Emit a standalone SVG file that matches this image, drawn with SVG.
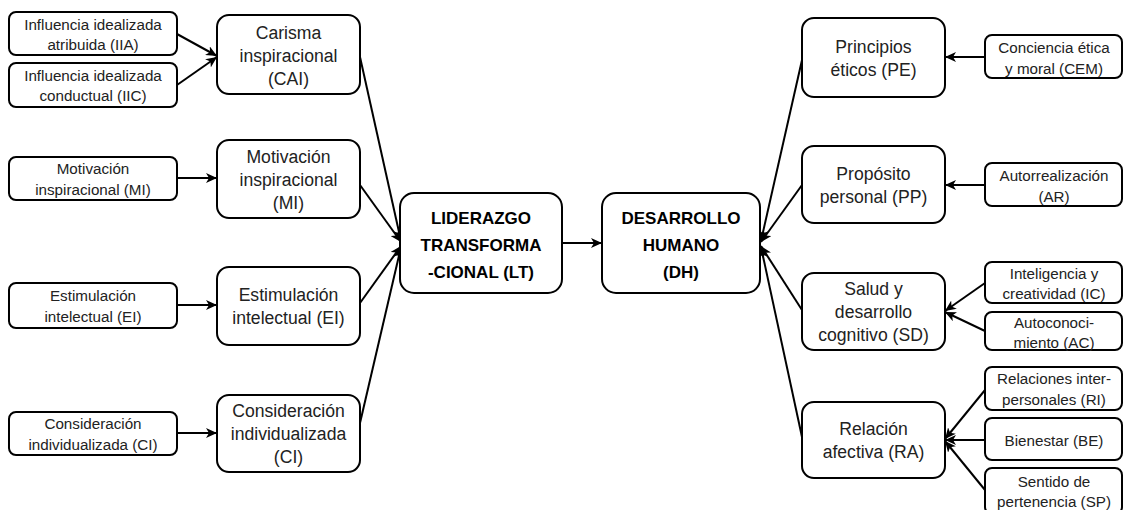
<svg xmlns="http://www.w3.org/2000/svg" width="1125" height="510" viewBox="0 0 1125 510">
<style>
rect{fill:#fff;stroke:#000;stroke-width:2}
text{font-family:"Liberation Sans",Arial,sans-serif;fill:#222;text-anchor:middle;dominant-baseline:central}
.s{font-size:15.2px}
.m{font-size:17.6px}
.b{font-size:17px;font-weight:bold;fill:#000}
.c line{stroke:#000;stroke-width:2;marker-end:url(#ah)}
</style>
<defs>
<marker id="ah" markerUnits="userSpaceOnUse" markerWidth="12" markerHeight="10" refX="11" refY="5" orient="auto">
<path d="M0,0 L11,5 L0,10 L3,5 z" fill="#000"/>
</marker>
</defs>
<rect width="1125" height="510" style="fill:#fff;stroke:none"/>
<g class="c">
<line x1="177" y1="34" x2="217" y2="56"/>
<line x1="177" y1="85" x2="217" y2="57"/>
<line x1="177" y1="178" x2="217" y2="178"/>
<line x1="177" y1="305" x2="217" y2="305"/>
<line x1="177" y1="433" x2="217" y2="433"/>
<line x1="360" y1="57" x2="401" y2="241"/>
<line x1="360" y1="185" x2="401" y2="242"/>
<line x1="360" y1="303" x2="401" y2="246"/>
<line x1="360" y1="423" x2="401" y2="247"/>
<line x1="562" y1="243" x2="602" y2="243"/>
<line x1="802" y1="60" x2="761" y2="241"/>
<line x1="802" y1="185" x2="761" y2="242"/>
<line x1="802" y1="310" x2="761" y2="246"/>
<line x1="802" y1="437" x2="761" y2="247"/>
<line x1="985" y1="57" x2="945" y2="57"/>
<line x1="985" y1="185" x2="945" y2="185"/>
<line x1="985" y1="283" x2="945" y2="311"/>
<line x1="985" y1="331" x2="945" y2="312"/>
<line x1="985" y1="390" x2="945" y2="439"/>
<line x1="985" y1="440" x2="945" y2="440"/>
<line x1="985" y1="490" x2="945" y2="441"/>
</g>
<g id="IIA"><rect x="9" y="12" width="168" height="43" rx="7"/><text class="s" x="93" y="24">Influencia idealizada</text><text class="s" x="93" y="44">atribuida (IIA)</text></g>
<g id="IIC"><rect x="9" y="63" width="168" height="44" rx="7"/><text class="s" x="93" y="75">Influencia idealizada</text><text class="s" x="93" y="95">conductual (IIC)</text></g>
<g id="MIs"><rect x="9" y="157" width="168" height="43" rx="7"/><text class="s" x="93" y="168">Motivación</text><text class="s" x="93" y="189">inspiracional (MI)</text></g>
<g id="EIs"><rect x="9" y="283" width="168" height="45" rx="7"/><text class="s" x="93" y="295">Estimulación</text><text class="s" x="93" y="316">intelectual (EI)</text></g>
<g id="CIs"><rect x="9" y="412" width="168" height="43" rx="7"/><text class="s" x="93" y="423">Consideración</text><text class="s" x="93" y="444">individualizada (CI)</text></g>
<g id="CAI"><rect x="217" y="15" width="143" height="79" rx="12"/><text class="m" x="288.5" y="33">Carisma</text><text class="m" x="288.5" y="56">inspiracional</text><text class="m" x="288.5" y="79">(CAI)</text></g>
<g id="MI"><rect x="217" y="140" width="143" height="78" rx="12"/><text class="m" x="288.5" y="157">Motivación</text><text class="m" x="288.5" y="180">inspiracional</text><text class="m" x="288.5" y="203">(MI)</text></g>
<g id="EI"><rect x="217" y="267" width="143" height="78" rx="12"/><text class="m" x="288.5" y="295">Estimulación</text><text class="m" x="288.5" y="318">intelectual (EI)</text></g>
<g id="CI"><rect x="217" y="395" width="143" height="77" rx="12"/><text class="m" x="288.5" y="411">Consideración</text><text class="m" x="288.5" y="434">individualizada</text><text class="m" x="288.5" y="457">(CI)</text></g>
<g id="LT"><rect x="400" y="193" width="162" height="100" rx="14"/><text class="b" x="481" y="218">LIDERAZGO</text><text class="b" x="481" y="245">TRANSFORMA</text><text class="b" x="481" y="272">-CIONAL (LT)</text></g>
<g id="DH"><rect x="602" y="193" width="158" height="100" rx="14"/><text class="b" x="681" y="218">DESARROLLO</text><text class="b" x="681" y="245">HUMANO</text><text class="b" x="681" y="272">(DH)</text></g>
<g id="PE"><rect x="802" y="18" width="143" height="79" rx="12"/><text class="m" x="873.5" y="47">Principios</text><text class="m" x="873.5" y="70">éticos (PE)</text></g>
<g id="PP"><rect x="802" y="146" width="143" height="77" rx="12"/><text class="m" x="873.5" y="174">Propósito</text><text class="m" x="873.5" y="197">personal (PP)</text></g>
<g id="SD"><rect x="802" y="273" width="143" height="77" rx="12"/><text class="m" x="873.5" y="289">Salud y</text><text class="m" x="873.5" y="312">desarrollo</text><text class="m" x="873.5" y="335">cognitivo (SD)</text></g>
<g id="RA"><rect x="802" y="402" width="143" height="76" rx="12"/><text class="m" x="873.5" y="429">Relación</text><text class="m" x="873.5" y="452">afectiva (RA)</text></g>
<g id="CEM"><rect x="985" y="35" width="137" height="43" rx="7"/><text class="s" x="1054" y="47">Conciencia ética</text><text class="s" x="1054" y="68">y moral (CEM)</text></g>
<g id="AR"><rect x="985" y="163" width="137" height="43" rx="7"/><text class="s" x="1054" y="175">Autorrealización</text><text class="s" x="1054" y="196">(AR)</text></g>
<g id="IC"><rect x="985" y="262" width="137" height="41" rx="7"/><text class="s" x="1054" y="273">Inteligencia y</text><text class="s" x="1054" y="293">creatividad (IC)</text></g>
<g id="AC"><rect x="985" y="312" width="137" height="38" rx="7"/><text class="s" x="1054" y="322">Autoconoci-</text><text class="s" x="1054" y="342">miento (AC)</text></g>
<g id="RI"><rect x="985" y="367" width="137" height="43" rx="7"/><text class="s" x="1054" y="378">Relaciones inter-</text><text class="s" x="1054" y="399">personales (RI)</text></g>
<g id="BE"><rect x="985" y="418" width="137" height="42" rx="7"/><text class="s" x="1054" y="440">Bienestar (BE)</text></g>
<g id="SP"><rect x="985" y="468" width="137" height="46" rx="7"/><text class="s" x="1054" y="481">Sentido de</text><text class="s" x="1054" y="501">pertenencia (SP)</text></g>
</svg>
